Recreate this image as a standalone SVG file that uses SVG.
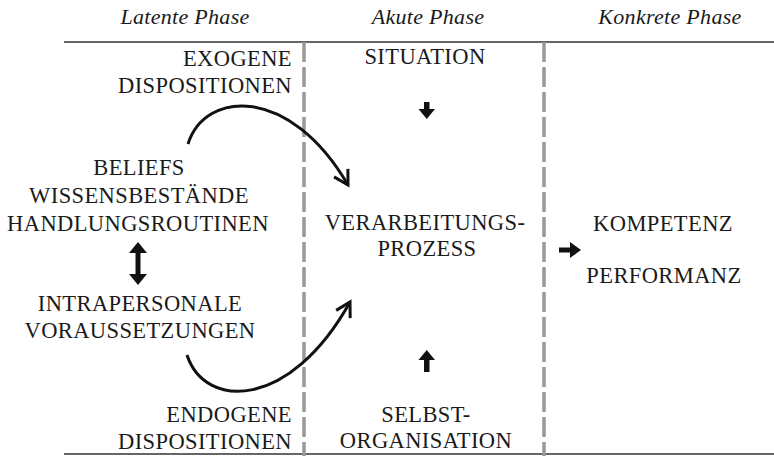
<svg xmlns="http://www.w3.org/2000/svg" width="774" height="456" viewBox="0 0 774 456">
<style>
.h{font-family:"Liberation Serif","Times New Roman",serif;font-style:italic;font-size:22px;fill:#1a1a1a;text-anchor:middle;letter-spacing:0.3px}
.t{font-family:"Liberation Serif","Times New Roman",serif;font-size:22.5px;fill:#1a1a1a;letter-spacing:0.4px}
.m{text-anchor:middle}
.e{text-anchor:end}
.rule{stroke:#333;stroke-width:1.5}
.dash{stroke:#999;stroke-width:3.5;stroke-dasharray:20 5;fill:none}
.curve{stroke:#111;stroke-width:3;fill:none}
.blk{fill:#111}
</style>
<defs>
<marker id="chev" viewBox="0 0 20 20" refX="16" refY="10" markerWidth="20" markerHeight="20" markerUnits="userSpaceOnUse" orient="auto">
<path d="M2,2 L16,10 L2,18" fill="none" stroke="#111" stroke-width="3" stroke-linejoin="miter"/>
</marker>
</defs>
<g id="frame">
<line class="rule" x1="64" y1="42" x2="774" y2="42"/>
<line class="rule" x1="64" y1="454" x2="774" y2="454"/>
<line class="dash" x1="304" y1="42" x2="304" y2="456"/>
<line class="dash" x1="544" y1="42" x2="544" y2="456"/>
</g>
<g id="headers">
<text class="h" x="185" y="24">Latente Phase</text>
<text class="h" x="428" y="24">Akute Phase</text>
<text class="h" x="670" y="24">Konkrete Phase</text>
</g>
<g id="exogen"><text class="t e" x="292" y="66">EXOGENE</text><text class="t e" x="292" y="93">DISPOSITIONEN</text></g>
<g id="beliefs"><text class="t m" x="139" y="175">BELIEFS</text><text class="t m" x="139" y="203">WISSENSBESTÄNDE</text><text class="t m" x="138" y="231">HANDLUNGSROUTINEN</text></g>
<g id="intrapersonal"><text class="t m" x="140" y="311">INTRAPERSONALE</text><text class="t m" x="140" y="338">VORAUSSETZUNGEN</text></g>
<g id="endogen"><text class="t e" x="292" y="422">ENDOGENE</text><text class="t e" x="292" y="449">DISPOSITIONEN</text></g>
<g id="situation"><text class="t m" x="425" y="64">SITUATION</text></g>
<g id="verarbeitung"><text class="t m" x="425" y="230">VERARBEITUNGS-</text><text class="t m" x="427" y="256">PROZESS</text></g>
<g id="selbst"><text class="t m" x="426" y="422">SELBST-</text><text class="t m" x="426" y="448">ORGANISATION</text></g>
<g id="kompetenz"><text class="t m" x="663" y="231">KOMPETENZ</text></g>
<g id="performanz"><text class="t m" x="664" y="283">PERFORMANZ</text></g>
<g id="connectors">
<path class="curve" d="M188,144 C205,90 290,85 348,185" marker-end="url(#chev)"/>
<path class="curve" d="M187,355 C205,410 290,410 350,302" marker-end="url(#chev)"/>
<path class="blk" d="M135.5,253 L129,253 L138,242 L147,253 L140.5,253 L140.5,274 L147,274 L138,285 L129,274 L135.5,274 Z"/>
<path class="blk" d="M424,102 L429.5,102 L429.5,109 L435,109 L426.75,119 L418.5,109 L424,109 Z"/>
<path class="blk" d="M424,372 L429.5,372 L429.5,360 L435,360 L426.75,350 L418.5,360 L424,360 Z"/>
<path class="blk" d="M559,247.5 L570,247.5 L570,242 L581,250 L570,258 L570,252.5 L559,252.5 Z"/>
</g>
</svg>
